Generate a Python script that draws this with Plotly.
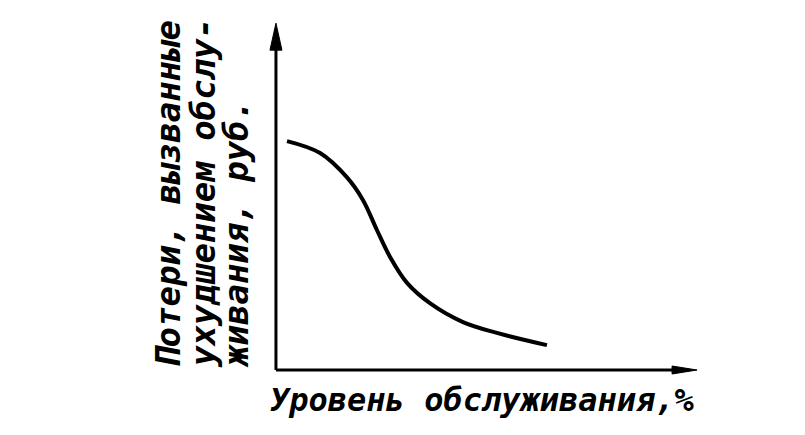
import plotly.graph_objects as go

# Service level, % (x) and losses caused by worse service, rub. (y)
service_level = [2.6, 10.4, 16.7, 20.5, 23.8, 26.9, 30.9, 36.3, 44.1, 52.1, 63.9]
losses = [65.4, 62.0, 55.1, 48.6, 40.0, 32.3, 24.9, 19.1, 13.7, 10.6, 7.1]

x_title = "Уровень обслуживания,%"
y_title_lines = ["Потери, вызванные", "ухудшением обслу-", "живания, руб."]
y_title_cols = [-0.1988, -0.1224, -0.0503]   # paper x of each title line

FONT = "DejaVu Sans Mono"
X_MAX, Y_MAX = 99.3, 99.1   # arrow tips of the axes

fig = go.Figure()
fig.add_trace(go.Scatter(
    x=service_level, y=losses, mode="lines",
    line=dict(color="black", width=4, shape="spline", smoothing=1.0),
    cliponaxis=False, hoverinfo="skip", showlegend=False,
))

shapes = [
    dict(type="line", xref="x", yref="y", x0=0, y0=0, x1=0, y1=Y_MAX - 2,
         line=dict(color="black", width=3)),
    dict(type="line", xref="x", yref="y", x0=0, y0=0, x1=X_MAX - 2, y1=0,
         line=dict(color="black", width=3)),
    dict(type="path", xref="x", yref="y", xsizemode="pixel", ysizemode="pixel",
         xanchor=0, yanchor=Y_MAX, path="M 0 0 L -6 -27 L 6 -27 Z",
         fillcolor="black", line=dict(color="black", width=1)),
    dict(type="path", xref="x", yref="y", xsizemode="pixel", ysizemode="pixel",
         xanchor=X_MAX, yanchor=0, path="M 0 0 L -25 -4 L -25 4 Z",
         fillcolor="black", line=dict(color="black", width=1)),
]

annotations = [
    dict(x=0.487, y=-0.043, xref="paper", yref="paper", showarrow=False,
         xanchor="center", yanchor="middle", text=x_title,
         font=dict(family=FONT, size=32, color="black", style="italic", weight="bold")),
]
for line, col in zip(y_title_lines, y_title_cols):
    annotations.append(dict(
        x=col, y=0.0377, xref="paper", yref="paper", showarrow=False,
        xanchor="center", yanchor="bottom", textangle=-90, text=line,
        font=dict(family=FONT, size=34, color="black", style="italic", weight="bold")))

fig.update_layout(
    width=805, height=435, autosize=False,
    margin=dict(l=251.04, r=96.04, t=5, b=59),
    paper_bgcolor="white", plot_bgcolor="white",
    xaxis=dict(range=[-4, 104], visible=False, fixedrange=True),
    yaxis=dict(range=[-4, 102], visible=False, fixedrange=True),
    shapes=shapes, annotations=annotations,
)

fig.write_html("out.html")
